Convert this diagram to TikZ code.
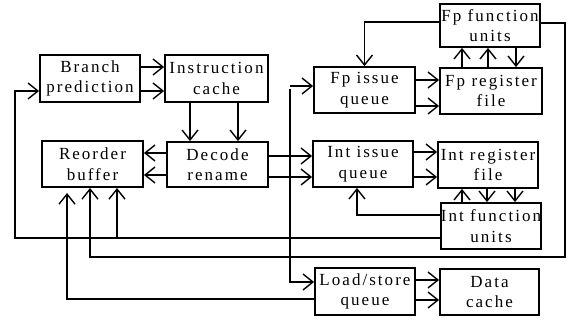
\documentclass[tikz,border=0pt]{standalone}
\usepackage{fontspec}
\setmainfont{Liberation Serif}[LetterSpace=12]
\usetikzlibrary{arrows.meta}
\tikzset{
  blk/.style={draw, line width=1.8pt, inner sep=0pt, align=center,
    font=\fontsize{17}{20.5}\selectfont},
  arr/.style={line width=1.4pt, -{Straight Barb[length=10pt,width=16pt,line width=1.4pt]}},
}
\begin{document}
\begin{tikzpicture}[x=1pt,y=-1pt]
\useasboundingbox (0,0) rectangle (569,320);
% boxes
\node[blk, minimum width=100pt, minimum height=47pt] (bp) at (90,78.5) {Branch\\prediction};
\node[blk, minimum width=103pt, minimum height=47pt] (ic) at (216.5,78.5) {Instruction\\cache};
\node[blk, minimum width=101pt, minimum height=46pt] (rob) at (92.5,164) {Reorder\\buffer};
\node[blk, minimum width=101pt, minimum height=45pt] (dec) at (217.5,164.5) {Decode\\rename};
\node[blk, minimum width=101pt, minimum height=46pt] (fiq) at (364.5,90) {Fp issue\\queue};
\node[blk, minimum width=102pt, minimum height=46pt] (frf) at (491,91) {Fp register\\file};
\node[blk, minimum width=100pt, minimum height=43pt] (ffu) at (490,25.5) {Fp function\\units};
\node[blk, minimum width=100pt, minimum height=46pt] (iiq) at (363,164) {Int issue\\queue};
\node[blk, minimum width=100pt, minimum height=46pt] (irf) at (488,165) {Int register\\file};
\node[blk, minimum width=100pt, minimum height=46pt] (ifu) at (491,226) {Int function\\units};
\node[blk, minimum width=100pt, minimum height=47pt] (lsq) at (365,291.5) {Load/store\\queue};
\node[blk, minimum width=99pt, minimum height=46pt] (dc) at (489.5,292) {Data\\cache};
% coordinates
\coordinate (lft) at (15,238);
\coordinate (rgt) at (565,257);
\coordinate (dsp) at (290,86);
% straight arrows
\draw[arr] (bp.east |- 0,67) -- (ic.west |- 0,67);
\draw[arr] (bp.east |- 0,91) -- (ic.west |- 0,91);
\draw[arr] (ic.south -| 190,0) -- (dec.north -| 190,0);
\draw[arr] (ic.south -| 238,0) -- (dec.north -| 238,0);
\draw[arr] (dec.west |- 0,153) -- (rob.east |- 0,153);
\draw[arr] (dec.west |- 0,175) -- (rob.east |- 0,175);
\draw[arr] (dec.east |- 0,156) -- (iiq.west |- 0,156);
\draw[arr] (dec.east |- 0,177) -- (iiq.west |- 0,177);
\draw[arr] (fiq.east |- 0,80) -- (frf.west |- 0,80);
\draw[arr] (fiq.east |- 0,106) -- (frf.west |- 0,106);
\draw[arr] (iiq.east |- 0,152) -- (irf.west |- 0,152);
\draw[arr] (iiq.east |- 0,177) -- (irf.west |- 0,177);
\draw[arr] (frf.north -| 462,0) -- (ffu.south -| 462,0);
\draw[arr] (frf.north -| 488,0) -- (ffu.south -| 488,0);
\draw[arr] (ffu.south -| 516,0) -- (frf.north -| 516,0);
\draw[arr] (ifu.north -| 462,0) -- (irf.south -| 462,0);
\draw[arr] (irf.south -| 487,0) -- (ifu.north -| 487,0);
\draw[arr] (irf.south -| 515,0) -- (ifu.north -| 515,0);
\draw[arr] (lsq.east |- 0,280) -- (dc.west |- 0,280);
\draw[arr] (lsq.east |- 0,300) -- (dc.west |- 0,300);
% feedback paths
\draw[arr] (ffu.west |- 0,22) -| (fiq.north);
\draw[arr] (ifu.west |- 0,215) -| (iiq.south -| 357,0);
\draw[arr] (ifu.west |- 0,238) -- (lft) |- (bp.west |- 0,91);
\draw[arr] (117,238) -- (117,188);
\draw[arr] (ffu.east |- 0,23) -| (rgt) -- (90,257) -- (90,188);
\draw[arr] (lsq.west |- 0,299) -- (67,299) -- (67,193);
% dispatch
\draw[arr] (dsp) -- (fiq.west |- dsp);
\draw[arr] (290,89) -- (290,282) -- (lsq.west |- 0,282);
\end{tikzpicture}
\end{document}
